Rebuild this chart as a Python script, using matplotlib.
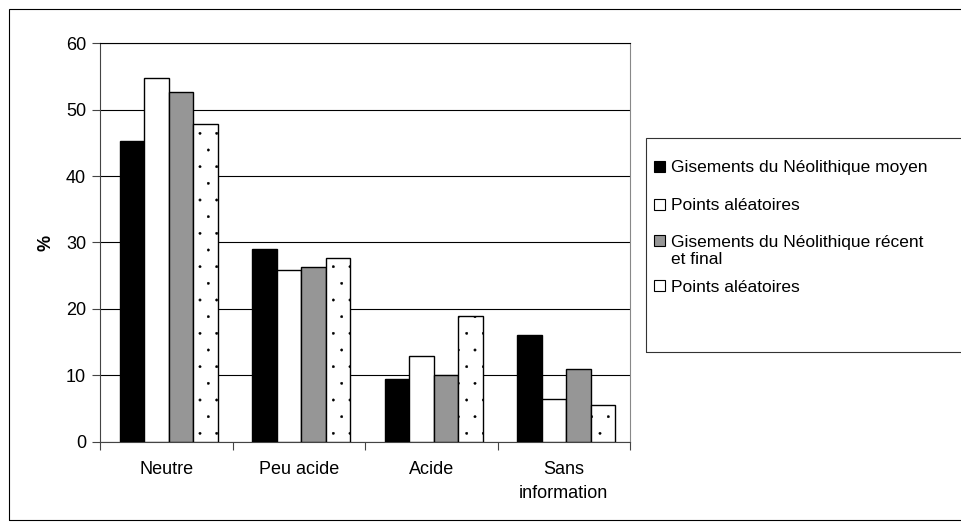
import matplotlib
matplotlib.use("Agg")
import matplotlib.pyplot as plt
import matplotlib.hatch as mhatch
import numpy as np
from matplotlib.patches import Rectangle

plt.rcParams["font.family"] = ["Liberation Sans", "DejaVu Sans"]
plt.rcParams["hatch.linewidth"] = 0.3


# smaller dots than the default "." hatch
class TinyDots(mhatch.SmallFilledCircles):
    size = 0.07


mhatch._hatch_types = [TinyDots if h is mhatch.SmallFilledCircles else h
                       for h in mhatch._hatch_types]

categories = ["Neutre", "Peu acide", "Acide", "Sans\ninformation"]
series_names = ["Gisements du Néolithique moyen", "Points aléatoires",
                "Gisements du Néolithique récent\net final", "Points aléatoires"]
moyen = [45.3, 29.0, 9.5, 16.1]
alea1 = [54.7, 25.9, 12.9, 6.4]
recent = [52.6, 26.3, 10.0, 10.9]
alea2 = [47.8, 27.7, 19.0, 5.5]
yticks = [0, 10, 20, 30, 40, 50, 60]

W, H = 961, 525
fig = plt.figure(figsize=(W / 100, H / 100), dpi=100)
ax = fig.add_axes([100 / W, 1 - 441.7 / H, 530 / W, 398.4 / H])

x = np.arange(len(categories))
w = 0.185
styles = [dict(color="black", edgecolor="black"),
          dict(color="white", edgecolor="black"),
          dict(color="#969696", edgecolor="black"),
          dict(color="white", edgecolor="black", hatch=".")]
for i, (vals, st) in enumerate(zip([moyen, alea1, recent, alea2], styles)):
    ax.bar(x + (i - 1.5) * w + 0.02, vals, w, lw=1.0, zorder=3, **st)

ax.set_xlim(-0.5, 3.5)
ax.set_ylim(0, 60)
ax.set_yticks(yticks)
ax.yaxis.grid(True, color="black", lw=0.8, zorder=0)
ax.set_xticks(np.arange(-0.5, 4, 1))
ax.set_xticklabels([])
ax.set_xticks(x, minor=True)
ax.set_xticklabels(categories, minor=True, fontsize=13, linespacing=1.55)
ax.tick_params(axis="x", which="minor", length=0, pad=14)
ax.tick_params(axis="x", which="major", length=6, direction="out", color="#444")
ax.tick_params(axis="y", length=6, direction="out", labelsize=13, color="#444", pad=4)
for s in ["left", "bottom"]:
    ax.spines[s].set_color("#444")
ax.spines["top"].set_color("black")
ax.spines["right"].set_color("#888")
ax.set_ylabel("%", fontsize=13, fontweight="bold", labelpad=8)

# legend drawn by hand: box runs off the right edge, handle on first text line
fig.patches.append(Rectangle((646 / W, 1 - 352 / H), 0.5, 214 / H,
                             transform=fig.transFigure, fill=False,
                             edgecolor="#333", lw=0.8))
leg_y = [166, 204, 241, 285]  # centre of first text line, px from top
line_h = 16
for name, st, yy in zip(series_names, styles, leg_y):
    fig.patches.append(Rectangle((654 / W, 1 - (yy + 5.5) / H), 11 / W, 11 / H,
                                 transform=fig.transFigure,
                                 facecolor=st["color"], edgecolor="black", lw=0.8))
    for k, line in enumerate(name.split("\n")):
        base = yy + 6.5 + line_h * k
        fig.text(671 / W, 1 - base / H, line, fontsize=12.5, ha="left", va="baseline")

fig.patches.append(Rectangle((9 / W, 5 / H), 1.2, 511 / H,
                             transform=fig.transFigure, fill=False,
                             edgecolor="black", lw=0.8))

fig.savefig("out.png", dpi=100)
